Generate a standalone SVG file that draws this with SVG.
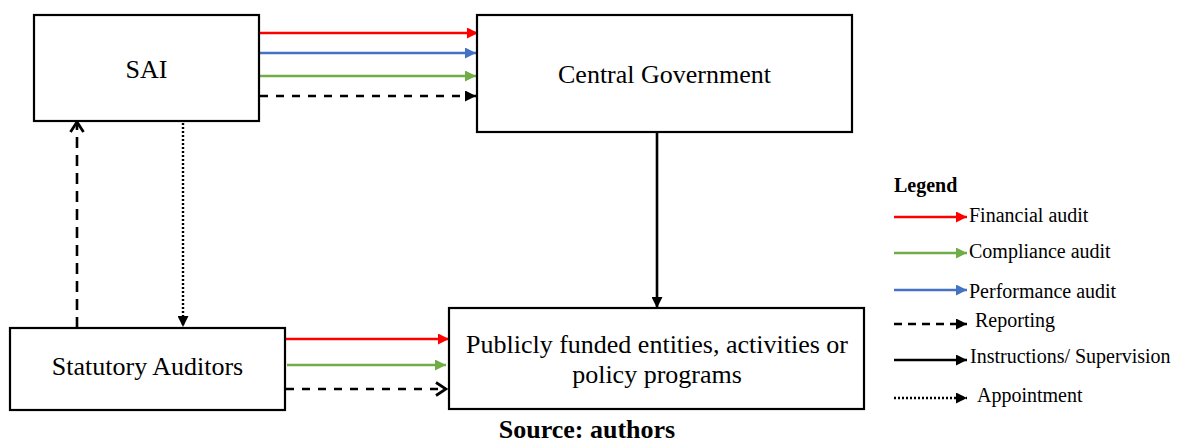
<svg xmlns="http://www.w3.org/2000/svg" width="1178" height="444" viewBox="0 0 1178 444">
<style>
.box{fill:#fff;stroke:#000;stroke-width:2.2}
.t{font-family:"Liberation Serif","Times New Roman",serif;font-size:26px;fill:#000}
.lt{font-family:"Liberation Serif","Times New Roman",serif;font-size:20px;fill:#000}
.b{font-weight:bold}
.ln{fill:none;stroke-width:2.6}
.red{stroke:#ff0000}
.blue{stroke:#4472c4}
.green{stroke:#70ad47}
.blk{stroke:#000}
.dash{stroke-dasharray:8 8}
.vdash{stroke-dasharray:11 7}
.ldash{stroke-dasharray:8 6}
.dot{stroke-dasharray:2 2;stroke-width:2.4}
</style>
<defs>
<marker id="aR" markerUnits="userSpaceOnUse" markerWidth="11" markerHeight="11" refX="11" refY="5.5" orient="auto"><path d="M0,0 L11,5.5 L0,11 z" fill="#ff0000"/></marker>
<marker id="aB" markerUnits="userSpaceOnUse" markerWidth="11" markerHeight="11" refX="11" refY="5.5" orient="auto"><path d="M0,0 L11,5.5 L0,11 z" fill="#4472c4"/></marker>
<marker id="aG" markerUnits="userSpaceOnUse" markerWidth="11" markerHeight="11" refX="11" refY="5.5" orient="auto"><path d="M0,0 L11,5.5 L0,11 z" fill="#70ad47"/></marker>
<marker id="aK" markerUnits="userSpaceOnUse" markerWidth="11" markerHeight="11" refX="11" refY="5.5" orient="auto"><path d="M0,0 L11,5.5 L0,11 z" fill="#000"/></marker>
<marker id="aO" markerUnits="userSpaceOnUse" markerWidth="14" markerHeight="16" refX="12" refY="8" orient="auto"><path d="M2,1.5 L12,8 L2,14.5" fill="none" stroke="#000" stroke-width="2.8"/></marker>
</defs>

<g id="connectors">
<line class="ln red" x1="260" y1="33" x2="478" y2="33" marker-end="url(#aR)"/>
<line class="ln blue" x1="260" y1="53" x2="476" y2="53" marker-end="url(#aB)"/>
<line class="ln green" x1="260" y1="76" x2="476" y2="76" marker-end="url(#aG)"/>
<line class="ln blk dash" x1="260" y1="96" x2="476" y2="96" marker-end="url(#aK)"/>
<line class="ln blk" x1="657" y1="132" x2="657" y2="308" marker-end="url(#aK)"/>
<line class="ln blk vdash" x1="77" y1="328" x2="77" y2="122" marker-end="url(#aO)"/>
<line class="ln blk dot" x1="183" y1="123" x2="183" y2="327" marker-end="url(#aK)"/>
<line class="ln red" x1="286" y1="339" x2="449" y2="339" marker-end="url(#aR)"/>
<line class="ln green" x1="287" y1="365" x2="446" y2="365" marker-end="url(#aG)"/>
<line class="ln blk dash" x1="286" y1="389" x2="446" y2="389" marker-end="url(#aO)"/>
</g>

<g id="node-sai">
<rect class="box" x="34" y="15" width="225" height="106"/>
<text class="t" x="146.5" y="78" text-anchor="middle">SAI</text>
</g>
<g id="node-central-government">
<rect class="box" x="477" y="15" width="375" height="117"/>
<text class="t" x="664.5" y="83" text-anchor="middle">Central Government</text>
</g>
<g id="node-statutory-auditors">
<rect class="box" x="10" y="328" width="275" height="82"/>
<text class="t" x="147.5" y="375" text-anchor="middle">Statutory Auditors</text>
</g>
<g id="node-publicly-funded">
<rect class="box" x="449" y="308" width="415" height="101"/>
<text class="t" x="657" y="353" text-anchor="middle">Publicly funded entities, activities or</text>
<text class="t" x="657" y="383" text-anchor="middle">policy programs</text>
</g>

<g id="legend">
<text class="lt b" x="894" y="192">Legend</text>
<line class="ln red" x1="894" y1="217" x2="967" y2="217" marker-end="url(#aR)"/>
<text class="lt" x="969" y="222">Financial audit</text>
<line class="ln green" x1="894" y1="253" x2="967" y2="253" marker-end="url(#aG)"/>
<text class="lt" x="969" y="258">Compliance audit</text>
<line class="ln blue" x1="894" y1="290" x2="967" y2="290" marker-end="url(#aB)"/>
<text class="lt" x="969" y="298">Performance audit</text>
<line class="ln blk ldash" x1="894" y1="324" x2="967" y2="324" marker-end="url(#aK)"/>
<text class="lt" x="975" y="327">Reporting</text>
<line class="ln blk" x1="894" y1="360" x2="967" y2="360" marker-end="url(#aK)"/>
<text class="lt" x="970" y="363">Instructions/ Supervision</text>
<line class="ln blk dot" x1="894" y1="398" x2="967" y2="398" marker-end="url(#aK)"/>
<text class="lt" x="977" y="402">Appointment</text>
</g>

<text class="t b" x="587" y="438" text-anchor="middle">Source: authors</text>
</svg>
